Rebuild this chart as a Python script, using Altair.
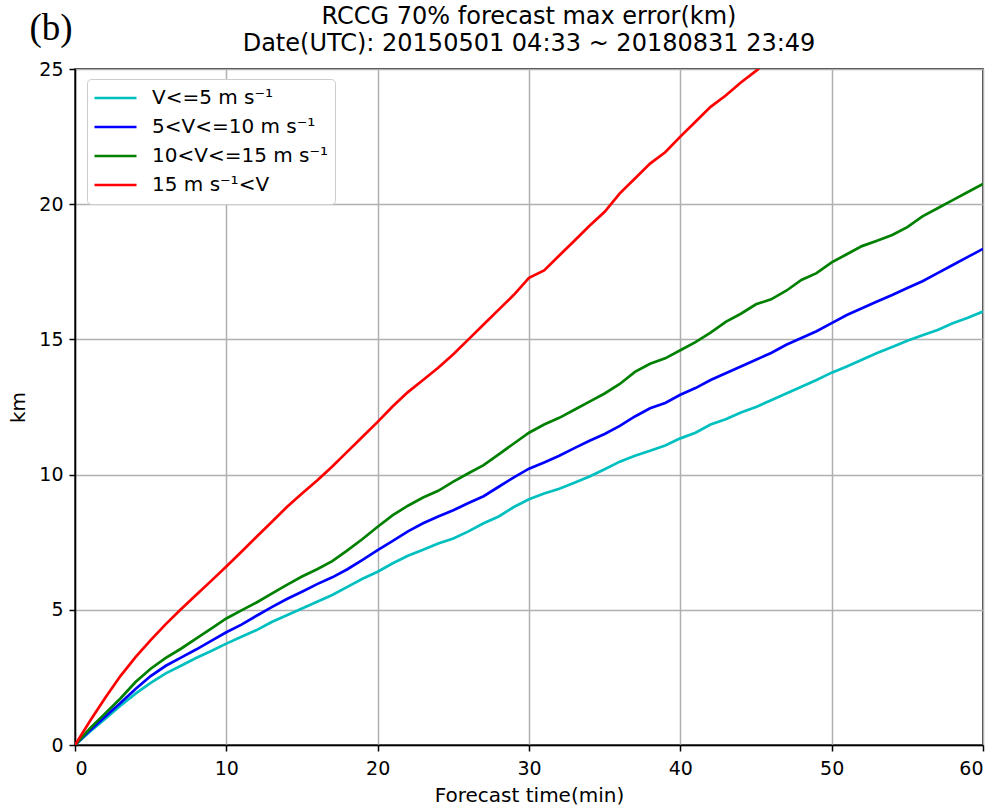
import altair as alt
import pandas as pd

# Forecast lead time (minutes) and 70% max error (km) per speed class
minutes = list(range(0, 61))

err_v5 = [0, 0.5, 0.97, 1.45, 1.9, 2.3, 2.65, 2.93, 3.22, 3.48,
          3.75, 4.0, 4.25, 4.55, 4.8, 5.05, 5.3, 5.55, 5.85, 6.15,
          6.41, 6.72, 7.0, 7.22, 7.45, 7.64, 7.9, 8.2, 8.45, 8.8,
          9.09, 9.3, 9.48, 9.7, 9.93, 10.2, 10.48, 10.7, 10.88, 11.08,
          11.34, 11.55, 11.85, 12.05, 12.3, 12.5, 12.75, 13.0, 13.25, 13.5,
          13.77, 14.0, 14.25, 14.5, 14.72, 14.95, 15.15, 15.35, 15.6, 15.8,
          16.03]

err_v10 = [0, 0.55, 1.05, 1.55, 2.07, 2.55, 2.93, 3.23, 3.53, 3.85,
           4.17, 4.45, 4.78, 5.1, 5.4, 5.67, 5.95, 6.2, 6.5, 6.85,
           7.21, 7.55, 7.9, 8.2, 8.45, 8.68, 8.95, 9.2, 9.55, 9.9,
           10.22, 10.45, 10.7, 10.98, 11.25, 11.5, 11.8, 12.15, 12.45, 12.65,
           12.95, 13.2, 13.5, 13.75, 14.0, 14.25, 14.5, 14.8, 15.05, 15.3,
           15.6, 15.9, 16.15, 16.4, 16.64, 16.9, 17.15, 17.45, 17.75, 18.05,
           18.35]

err_v15 = [0, 0.62, 1.17, 1.72, 2.33, 2.82, 3.22, 3.56, 3.93, 4.3,
           4.68, 4.98, 5.27, 5.6, 5.92, 6.23, 6.5, 6.8, 7.2, 7.62,
           8.07, 8.5, 8.85, 9.15, 9.4, 9.74, 10.05, 10.35, 10.75, 11.15,
           11.55, 11.85, 12.1, 12.4, 12.7, 13.0, 13.35, 13.8, 14.1, 14.3,
           14.6, 14.9, 15.25, 15.65, 15.95, 16.3, 16.48, 16.8, 17.2, 17.45,
           17.85, 18.15, 18.45, 18.65, 18.86, 19.15, 19.55, 19.85, 20.15, 20.45,
           20.75]

minutes_fast = list(range(0, 47))
err_fast = [0, 0.9, 1.75, 2.55, 3.25, 3.88, 4.47, 5.02, 5.55, 6.07,
            6.6, 7.15, 7.7, 8.25, 8.8, 9.3, 9.78, 10.3, 10.85, 11.4,
            11.95, 12.53, 13.05, 13.5, 13.95, 14.45, 15.0, 15.55, 16.1, 16.65,
            17.28, 17.55, 18.1, 18.65, 19.2, 19.72, 20.4, 20.95, 21.5, 21.92,
            22.5, 23.05, 23.6, 24.02, 24.5, 24.93, 25.4]

labels = ["V<=5 m s⁻¹", "5<V<=10 m s⁻¹", "10<V<=15 m s⁻¹", "15 m s⁻¹<V"]
colors = ["#00bfbf", "#0000ff", "#008000", "#ff0000"]

title_lines = ["RCCG 70% forecast max error(km)",
               "Date(UTC): 20150501 04:33 ~ 20180831 23:49"]

rows = []
for lab, xs, ys in [(labels[0], minutes, err_v5),
                    (labels[1], minutes, err_v10),
                    (labels[2], minutes, err_v15),
                    (labels[3], minutes_fast, err_fast)]:
    for x, y in zip(xs, ys):
        rows.append({"t": x, "err": y, "cls": lab})
df = pd.DataFrame(rows)

font = "DejaVu Sans"
W, H = 908, 676

lines = alt.Chart(df).mark_line(strokeWidth=2.7, clip=True).encode(
    x=alt.X("t:Q",
            scale=alt.Scale(domain=[0, 60], nice=False, zero=False),
            axis=alt.Axis(title="Forecast time(min)", values=[0, 10, 20, 30, 40, 50, 60],
                          format="d", labelPadding=8, titlePadding=7)),
    y=alt.Y("err:Q",
            scale=alt.Scale(domain=[0, 25], nice=False),
            axis=alt.Axis(title="km", values=[0, 5, 10, 15, 20, 25],
                          format="d", labelPadding=6, titlePadding=10)),
    color=alt.Color("cls:N",
                    scale=alt.Scale(domain=labels, range=colors),
                    sort=labels,
                    legend=alt.Legend(title=None, orient="none", legendX=12, legendY=10,
                                      symbolType="stroke", symbolSize=1764,
                                      symbolStrokeWidth=2.7, labelFontSize=20,
                                      labelFont=font, labelColor="black",
                                      labelLimit=400, labelOffset=14,
                                      clipHeight=26, rowPadding=3,
                                      padding=6, fillColor="white",
                                      strokeColor="#cccccc", cornerRadius=4)),
    detail="cls:N",
    order="t:Q",
)

# two-line heading centred over the plot area
heading = alt.Chart(pd.DataFrame({"txt": title_lines, "yy": [-52, -25]})).mark_text(
    font=font, fontSize=24, color="black", align="center", baseline="middle"
).encode(x=alt.value(W / 2), y=alt.Y("yy:Q", scale=None), text="txt:N")

panel_tag = alt.Chart(pd.DataFrame({"tag": ["(b)"]})).mark_text(
    font="Liberation Serif", fontSize=37, color="black", align="center", baseline="middle"
).encode(x=alt.value(-24), y=alt.value(-40), text="tag:N")

chart = alt.layer(lines, heading, panel_tag).properties(
    width=W,
    height=H,
    autosize=alt.AutoSizeParams(type="none"),
    padding={"left": 75, "top": 69, "right": 18, "bottom": 66},
    background="white",
).configure_view(
    stroke="black", strokeWidth=1.5
).configure_axis(
    labelFont=font, titleFont=font, labelFontSize=19, titleFontSize=20,
    labelColor="black", titleColor="black", titleFontWeight="normal",
    domainColor="black", domainWidth=1.5, tickColor="black", tickWidth=1.5,
    tickSize=6, gridColor="#b0b0b0", gridWidth=1.5,
)

chart.save("out.html", embed_options={"renderer": "svg", "actions": False})
